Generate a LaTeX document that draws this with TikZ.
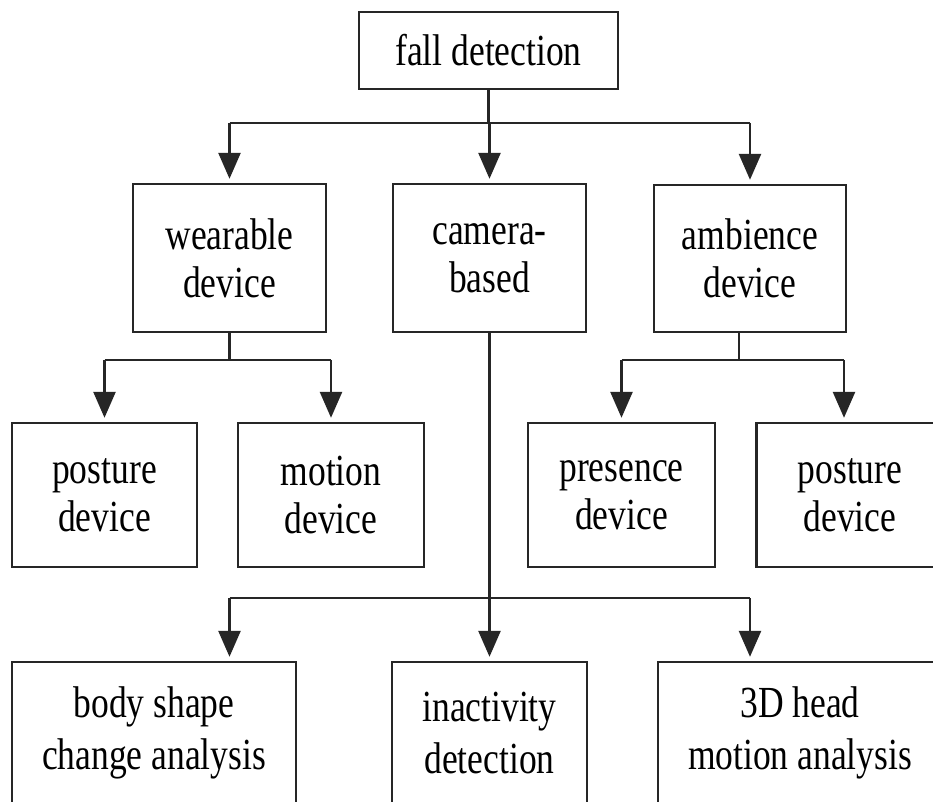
\documentclass[tikz,border=0pt]{standalone}
\usepackage{fontspec}
\setmainfont{Liberation Serif}
\newfontfamily\tallserif[FakeStretch=0.8]{Liberation Serif}
\usetikzlibrary{arrows.meta}

\tikzset{
  box/.style={draw=black!85, line width=1.2pt, align=center, inner sep=0pt,
    font=\tallserif\fontsize{22.2pt}{24pt}\selectfont},
  lowbox/.style={box, font=\tallserif\fontsize{22.2pt}{26pt}\selectfont},
  link/.style={draw=black!85, line width=1.3pt},
  arr/.style={link, -{Triangle[width=11pt,length=13pt]}, shorten >=2pt},
}

\begin{document}
\begin{tikzpicture}[x=0.5pt,y=-0.5pt]
      \useasboundingbox (0,0) rectangle (933,802);
      \fill[white] (0,0) rectangle (933,802);
      \clip (0,0) rectangle (933,802);

      % levels
      \node[box, minimum width=129.5pt, minimum height=38.5pt] (fall) at (488.5,50.5) {fall detection};
      \node[box, minimum width=96.5pt, minimum height=74pt] (wear) at (229.5,258) {wearable\\device};
      \node[box, minimum width=96.5pt, minimum height=74pt] (cam)  at (489.5,258) {camera-\\based};
      \node[box, minimum width=96pt, minimum height=73.5pt] (amb)  at (750,258.5) {ambience\\device};

      \node[box, minimum width=92.5pt, minimum height=72pt] (post1) at (104.5,495) {posture\\device};
      \node[box, minimum width=93pt, minimum height=72pt]   (mot)   at (331,495)   {motion\\device};
      \node[box, minimum width=93.5pt, minimum height=72pt] (pres)  at (621.5,495) {presence\\device};
      \node[box, minimum width=93.5pt, minimum height=72pt] (post2) at (850,495)   {posture\\device};

      \node[lowbox, minimum width=142pt, minimum height=71pt]  (body)  at (154,733)   {body shape\\change analysis};
      \node[lowbox, minimum width=97.5pt, minimum height=71pt] (inact) at (489.5,733) {inactivity\\detection};
      \node[lowbox, minimum width=142pt, minimum height=71pt]  (head)  at (800,733)   {3D head\\motion analysis};

      \coordinate (bus1) at (0,123);
      \coordinate (bus2) at (0,360);
      \coordinate (bus3) at (0,598);

      % fall detection -> three kinds
      \draw[link] (fall.south) -- (fall.south |- bus1);
      \draw[link] (wear |- bus1) -- (amb |- bus1);
      \foreach \n in {wear,cam,amb}
        \draw[arr] (\n |- bus1) -- (\n.north);

      % wearable
      \draw[link] (wear.south) -- (wear.south |- bus2);
      \draw[link] (post1 |- bus2) -- (mot |- bus2);
      \draw[arr] (post1 |- bus2) -- (post1.north);
      \draw[arr] (mot |- bus2) -- (mot.north);

      % ambience
      \draw[link] ([xshift=-5.5pt]amb.south) -- ([xshift=-5.5pt]amb.south |- bus2);
      \draw[link] (pres |- bus2) -- ([xshift=-3pt]post2.north |- bus2);
      \draw[arr] (pres |- bus2) -- (pres.north);
      \draw[arr] ([xshift=-3pt]post2.north |- bus2) -- ([xshift=-3pt]post2.north);

      % camera
      \draw[link] (cam.south) -- (cam |- bus3);
      \draw[link] (wear |- bus3) -- (amb |- bus3);
      \draw[arr] (cam |- bus3) -- (inact.north);
      \draw[arr] (wear |- bus3) -- (wear |- body.north);
      \draw[arr] (amb |- bus3) -- (amb |- head.north);
    \end{tikzpicture}
\end{document}
